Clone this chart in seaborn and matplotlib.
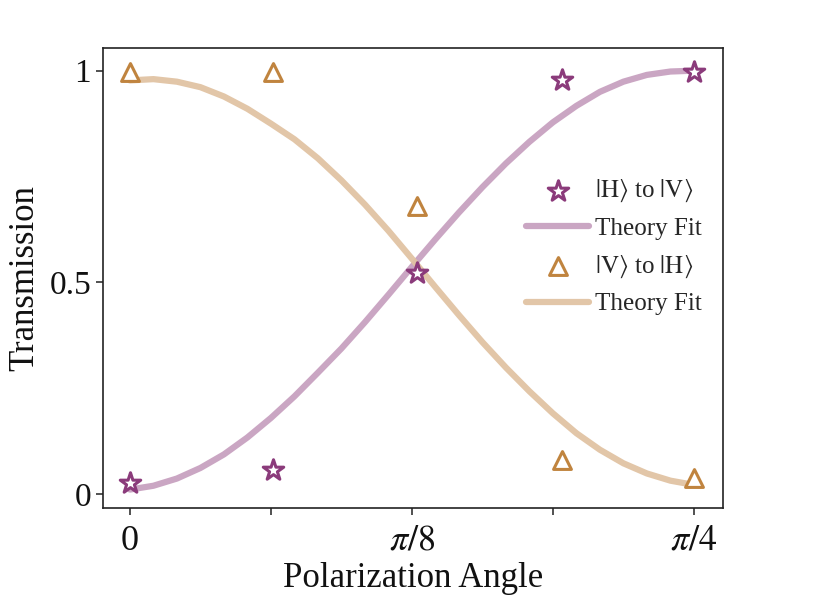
import numpy as np
import matplotlib
matplotlib.use('Agg')
import matplotlib.pyplot as plt
import seaborn as sb

# measured points (angle in rad)
angle_pts = [0.0, 0.199, 0.400, 0.602, 0.785]
h_to_v = [0.026, 0.057, 0.522, 0.979, 0.998]
v_to_h = [0.998, 0.998, 0.681, 0.080, 0.038]

# theory fit curves
angle_fit = [0.0, 0.0327, 0.0654, 0.0982, 0.1309, 0.1636, 0.1963, 0.2291,
             0.2618, 0.2945, 0.3272, 0.3600, 0.3927, 0.4254, 0.4581, 0.4909,
             0.5236, 0.5563, 0.5890, 0.6218, 0.6545, 0.6872, 0.7199, 0.7527,
             0.7854]
fit_hv = [0.011, 0.020, 0.037, 0.062, 0.094, 0.134, 0.180, 0.231,
          0.287, 0.344, 0.406, 0.471, 0.537, 0.602, 0.665, 0.725,
          0.781, 0.832, 0.878, 0.917, 0.950, 0.974, 0.990, 0.998,
          1.000]
fit_vh = [0.977, 0.980, 0.974, 0.961, 0.939, 0.910, 0.875, 0.838,
          0.793, 0.741, 0.684, 0.622, 0.556, 0.489, 0.423, 0.359,
          0.299, 0.243, 0.191, 0.144, 0.105, 0.073, 0.049, 0.032,
          0.022]

xtick_pos = [0, np.pi/16, np.pi/8, 3*np.pi/16, np.pi/4]
xtick_lab = ['0', '', r'$\pi/8$', '', r'$\pi/4$']
ytick_pos = [0, 0.5, 1]
ytick_lab = ['0', '0.5', '1']

purple = '#8B3B7B'
purple_line = '#C8A1C0'
tan = '#C0843F'
tan_line = '#E1C3A3'

sb.set_style('ticks')
plt.rcParams['font.family'] = ['Liberation Serif', 'DejaVu Serif']
plt.rcParams['mathtext.fontset'] = 'stix'

fig = plt.figure(figsize=(8.3, 6.05), dpi=100)
fig.subplots_adjust(left=0.124, right=0.871, bottom=0.160, top=0.921)
ax = fig.add_subplot(111)

sb.scatterplot(x=angle_pts, y=h_to_v, marker='*', s=240, color='white',
               edgecolor=purple, linewidth=2.2, zorder=4,
               label=r'$|\mathrm{H}\rangle$ to $|\mathrm{V}\rangle$', ax=ax)
sb.lineplot(x=angle_fit, y=fit_hv, color=purple_line, linewidth=4.5,
            alpha=0.95, label='Theory Fit', ax=ax, zorder=2)
sb.scatterplot(x=angle_pts, y=v_to_h, marker='^', s=165, color='white',
               edgecolor=tan, linewidth=2.2, zorder=4,
               label=r'$|\mathrm{V}\rangle$ to $|\mathrm{H}\rangle$', ax=ax)
sb.lineplot(x=angle_fit, y=fit_vh, color=tan_line, linewidth=4.5,
            alpha=0.95, label='Theory Fit', ax=ax, zorder=2)

ax.set_xlim(-0.0376, 0.8258)
ax.set_ylim(-0.033, 1.054)
ax.set_xticks(xtick_pos)
ax.set_xticklabels(xtick_lab)
ax.set_yticks(ytick_pos)
ax.set_yticklabels(ytick_lab)
ax.tick_params(axis='both', direction='out', length=5, width=1.1,
               labelsize=24, color='#222222', labelcolor='#111111')
ax.tick_params(axis='x', pad=7, labelsize=26)
for sp in ax.spines.values():
    sp.set_visible(True)
    sp.set_linewidth(1.2)
    sp.set_color('#222222')

ax.set_xlabel('Polarization Angle', fontsize=25, labelpad=3, color='#111111')
ax.set_ylabel('Transmission', fontsize=25, labelpad=6, color='#111111')

leg = ax.legend(loc='upper left', bbox_to_anchor=(0.683, 0.717), frameon=False,
                fontsize=18, handlelength=2.5, handletextpad=0.25,
                labelspacing=0.53, borderpad=0, borderaxespad=0)

plt.savefig('out.png', dpi=100)
